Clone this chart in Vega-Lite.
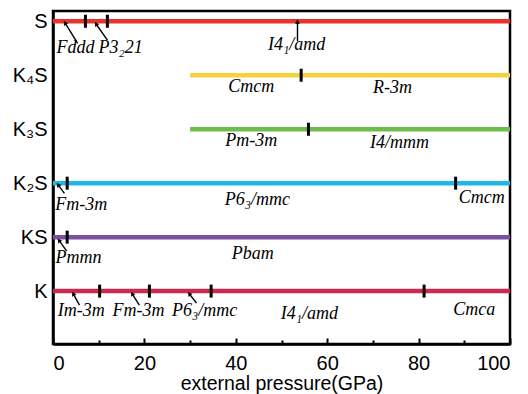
{
  "$schema": "https://vega.github.io/schema/vega-lite/v6.json",
  "width": 457,
  "height": 333,
  "autosize": {"type": "none"},
  "padding": {"left": 53, "top": 11, "right": 18, "bottom": 50},
  "background": "white",
  "config": {
    "view": {"stroke": "black", "strokeWidth": 2.5},
    "axis": {"grid": false, "domainColor": "black", "domainWidth": 2.5, "labelColor": "black", "titleColor": "black", "labelFont": "Liberation Sans", "titleFont": "Liberation Sans"}
  },
  "datasets": {
    "phases": [
      {"name": "S", "y": 5, "start": 0, "end": 100},
      {"name": "K4S", "y": 4, "start": 30, "end": 100},
      {"name": "K3S", "y": 3, "start": 30, "end": 100},
      {"name": "K2S", "y": 2, "start": 0, "end": 100},
      {"name": "KS", "y": 1, "start": 0, "end": 100},
      {"name": "K", "y": 0, "start": 0, "end": 100}
    ],
    "transitions": [
      {"y": 5, "p": 7.1}, {"y": 5, "p": 11.9},
      {"y": 4, "p": 54.3},
      {"y": 3, "p": 55.9},
      {"y": 2, "p": 3.1}, {"y": 2, "p": 88.1},
      {"y": 1, "p": 3.1},
      {"y": 0, "p": 10.2}, {"y": 0, "p": 21.1}, {"y": 0, "p": 34.6}, {"y": 0, "p": 81.2}
    ],
    "arrows": [
      {"x1": 5.4, "y1": 4.59, "x2": 2.7, "y2": 4.96, "angle": 329},
      {"x1": 11.9, "y1": 4.65, "x2": 9.5, "y2": 4.94, "angle": 325},
      {"x1": 53.5, "y1": 4.63, "x2": 53.5, "y2": 4.98, "angle": 0},
      {"x1": 2.5, "y1": 1.81, "x2": 1.2, "y2": 1.96, "angle": 323},
      {"x1": 3.0, "y1": 0.74, "x2": 1.4, "y2": 0.93, "angle": 325},
      {"x1": 5.8, "y1": -0.26, "x2": 4.5, "y2": -0.06, "angle": 331},
      {"x1": 18.9, "y1": -0.26, "x2": 17.4, "y2": -0.06, "angle": 328},
      {"x1": 31.4, "y1": -0.22, "x2": 29.9, "y2": -0.06, "angle": 322}
    ],
    "labels": [
      {"text": "Fddd", "x": 4.9, "y": 4.5},
      {"text": "P3₂21", "x": 14.8, "y": 4.5},
      {"text": "I4₁/amd", "x": 53.3, "y": 4.56},
      {"text": "Cmcm", "x": 43.4, "y": 3.78},
      {"text": "R-3m", "x": 74.3, "y": 3.76},
      {"text": "Pm-3m", "x": 43.4, "y": 2.78},
      {"text": "I4/mmm", "x": 75.8, "y": 2.74},
      {"text": "Fm-3m", "x": 6.2, "y": 1.59},
      {"text": "P6₃/mmc", "x": 44.7, "y": 1.69},
      {"text": "Cmcm", "x": 93.8, "y": 1.72},
      {"text": "Pmmn", "x": 5.6, "y": 0.61},
      {"text": "Pbam", "x": 43.7, "y": 0.69},
      {"text": "Im-3m", "x": 6.2, "y": -0.37},
      {"text": "Fm-3m", "x": 18.7, "y": -0.37},
      {"text": "P6₃/mmc", "x": 33.2, "y": -0.37},
      {"text": "I4₁/amd", "x": 56.1, "y": -0.43},
      {"text": "Cmca", "x": 92.2, "y": -0.35}
    ]
  },
  "layer": [
    {
      "data": {"name": "phases"},
      "mark": {"type": "rule", "strokeWidth": 4.5},
      "encoding": {
        "x": {"field": "start", "type": "quantitative", "scale": {"domain": [0, 100], "nice": false, "zero": false},
          "axis": {"values": [0, 10, 20, 30, 40, 50, 60, 70, 80, 90, 100],
            "labelExpr": "datum.value % 20 === 0 ? datum.label : ''",
            "tickSize": {"condition": {"test": "datum.value % 20 === 0", "value": -6}, "value": -4},
            "tickColor": "black", "tickWidth": 2, "labelPadding": 15, "labelFontSize": 20,
            "title": "external pressure(GPa)", "titleFontSize": 19.5, "titleFontWeight": "normal", "titlePadding": 1}},
        "x2": {"field": "end"},
        "y": {"field": "y", "type": "quantitative", "scale": {"domain": [-0.98, 5.19], "nice": false, "zero": false},
          "axis": {"values": [0, 1, 2, 3, 4, 5], "ticks": false, "labelPadding": 6, "labelFontSize": 20, "title": null,
            "labelExpr": "['K','KS','K₂S','K₃S','K₄S','S'][datum.value]"}},
        "color": {"field": "name", "type": "nominal", "legend": null,
          "scale": {"domain": ["S", "K4S", "K3S", "K2S", "KS", "K"], "range": ["#e8322e", "#f6d23e", "#6cbd4c", "#1cb8e6", "#7b4f9f", "#c92a50"]}}
      }
    },
    {
      "data": {"name": "transitions"},
      "mark": {"type": "tick", "orient": "vertical", "color": "black", "opacity": 1, "size": 13, "thickness": 3},
      "encoding": {
        "x": {"field": "p", "type": "quantitative"},
        "y": {"field": "y", "type": "quantitative"}
      }
    },
    {
      "data": {"name": "arrows"},
      "mark": {"type": "rule", "color": "black", "strokeWidth": 1.4},
      "encoding": {
        "x": {"field": "x1", "type": "quantitative"},
        "x2": {"field": "x2"},
        "y": {"field": "y1", "type": "quantitative"},
        "y2": {"field": "y2"}
      }
    },
    {
      "data": {"name": "arrows"},
      "mark": {"type": "point", "shape": "triangle", "filled": true, "color": "black", "size": 24, "opacity": 1},
      "encoding": {
        "x": {"field": "x2", "type": "quantitative"},
        "y": {"field": "y2", "type": "quantitative"},
        "angle": {"field": "angle", "type": "quantitative", "scale": null}
      }
    },
    {
      "data": {"name": "labels"},
      "mark": {"type": "text", "font": "Liberation Serif", "fontStyle": "italic", "fontSize": 18, "color": "black", "align": "center", "baseline": "middle"},
      "encoding": {
        "x": {"field": "x", "type": "quantitative"},
        "y": {"field": "y", "type": "quantitative"},
        "text": {"field": "text"}
      }
    }
  ]
}
